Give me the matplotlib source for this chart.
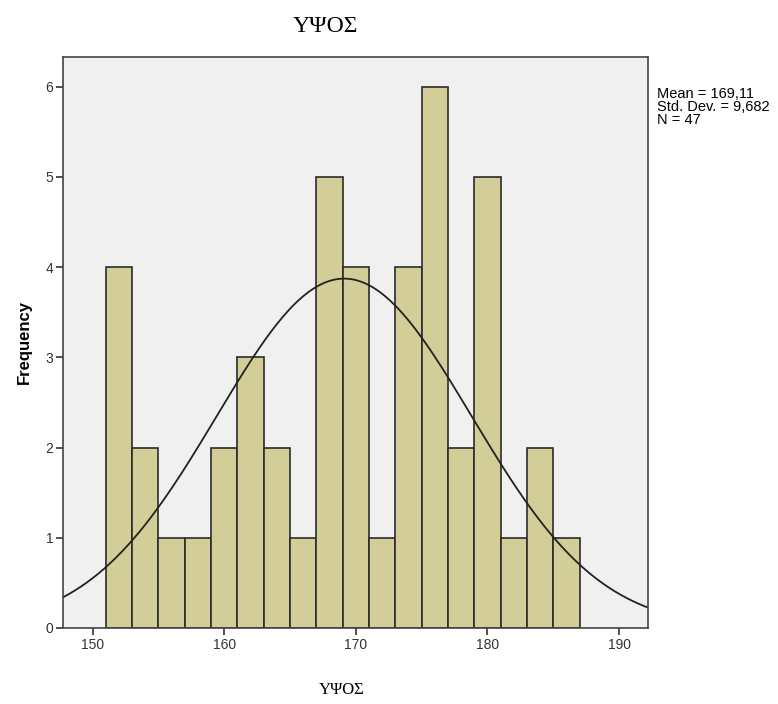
import numpy as np
import matplotlib
matplotlib.use("Agg")
import matplotlib.pyplot as plt

# histogram data (bin width 2)
bin_edges = [151, 153, 155, 157, 159, 161, 163, 165, 167, 169,
             171, 173, 175, 177, 179, 181, 183, 185, 187]
counts = [4, 2, 1, 1, 2, 3, 2, 1, 5, 4, 1, 4, 6, 2, 5, 1, 2, 1]
mean = 169.11
std = 9.682
n = 47

fig = plt.figure(figsize=(7.78, 7.04), dpi=100)
ax = fig.add_axes([0.081, 0.108, 0.752, 0.811])
ax.set_facecolor("#F0F0F0")

ax.bar(bin_edges[:-1], counts, width=np.diff(bin_edges), align="edge",
       color="#D3CE97", edgecolor="#2B2B2B", linewidth=1.2)

# normal curve scaled to counts
xs = np.linspace(147.75, 192.2, 300)
bw = bin_edges[1] - bin_edges[0]
ys = n * bw / (std * np.sqrt(2 * np.pi)) * np.exp(-0.5 * ((xs - mean) / std) ** 2)
ax.plot(xs, ys, color="#222222", linewidth=1.3)

ax.set_xlim(147.75, 192.2)
ax.set_ylim(0, 6.33)
ax.set_xticks([150, 160, 170, 180, 190])
ax.set_yticks(range(7))
ax.tick_params(direction="out", length=5, width=1.2, colors="#333333",
               labelsize=10, pad=2)
for lab in ax.get_xticklabels() + ax.get_yticklabels():
    lab.set_fontfamily("Liberation Sans")
for s in ax.spines.values():
    s.set_color("#444444")
    s.set_linewidth(1.2)

ax.set_ylabel("Frequency", fontsize=12, fontweight="bold",
              fontfamily="Liberation Sans", labelpad=10)

fig.text(0.418, 0.962, "ΥΨΟΣ", fontsize=17, fontfamily="Liberation Serif",
         ha="center", va="center")
fig.text(0.439, 0.020, "ΥΨΟΣ", fontsize=12, fontfamily="Liberation Serif",
         ha="center", va="center")

fig.text(0.845, 0.877,
         "Mean = 169,11\nStd. Dev. = 9,682\nN = 47",
         fontsize=10.5, fontfamily="Liberation Sans", va="top", ha="left",
         linespacing=0.95)

fig.savefig("out.png", dpi=100)
